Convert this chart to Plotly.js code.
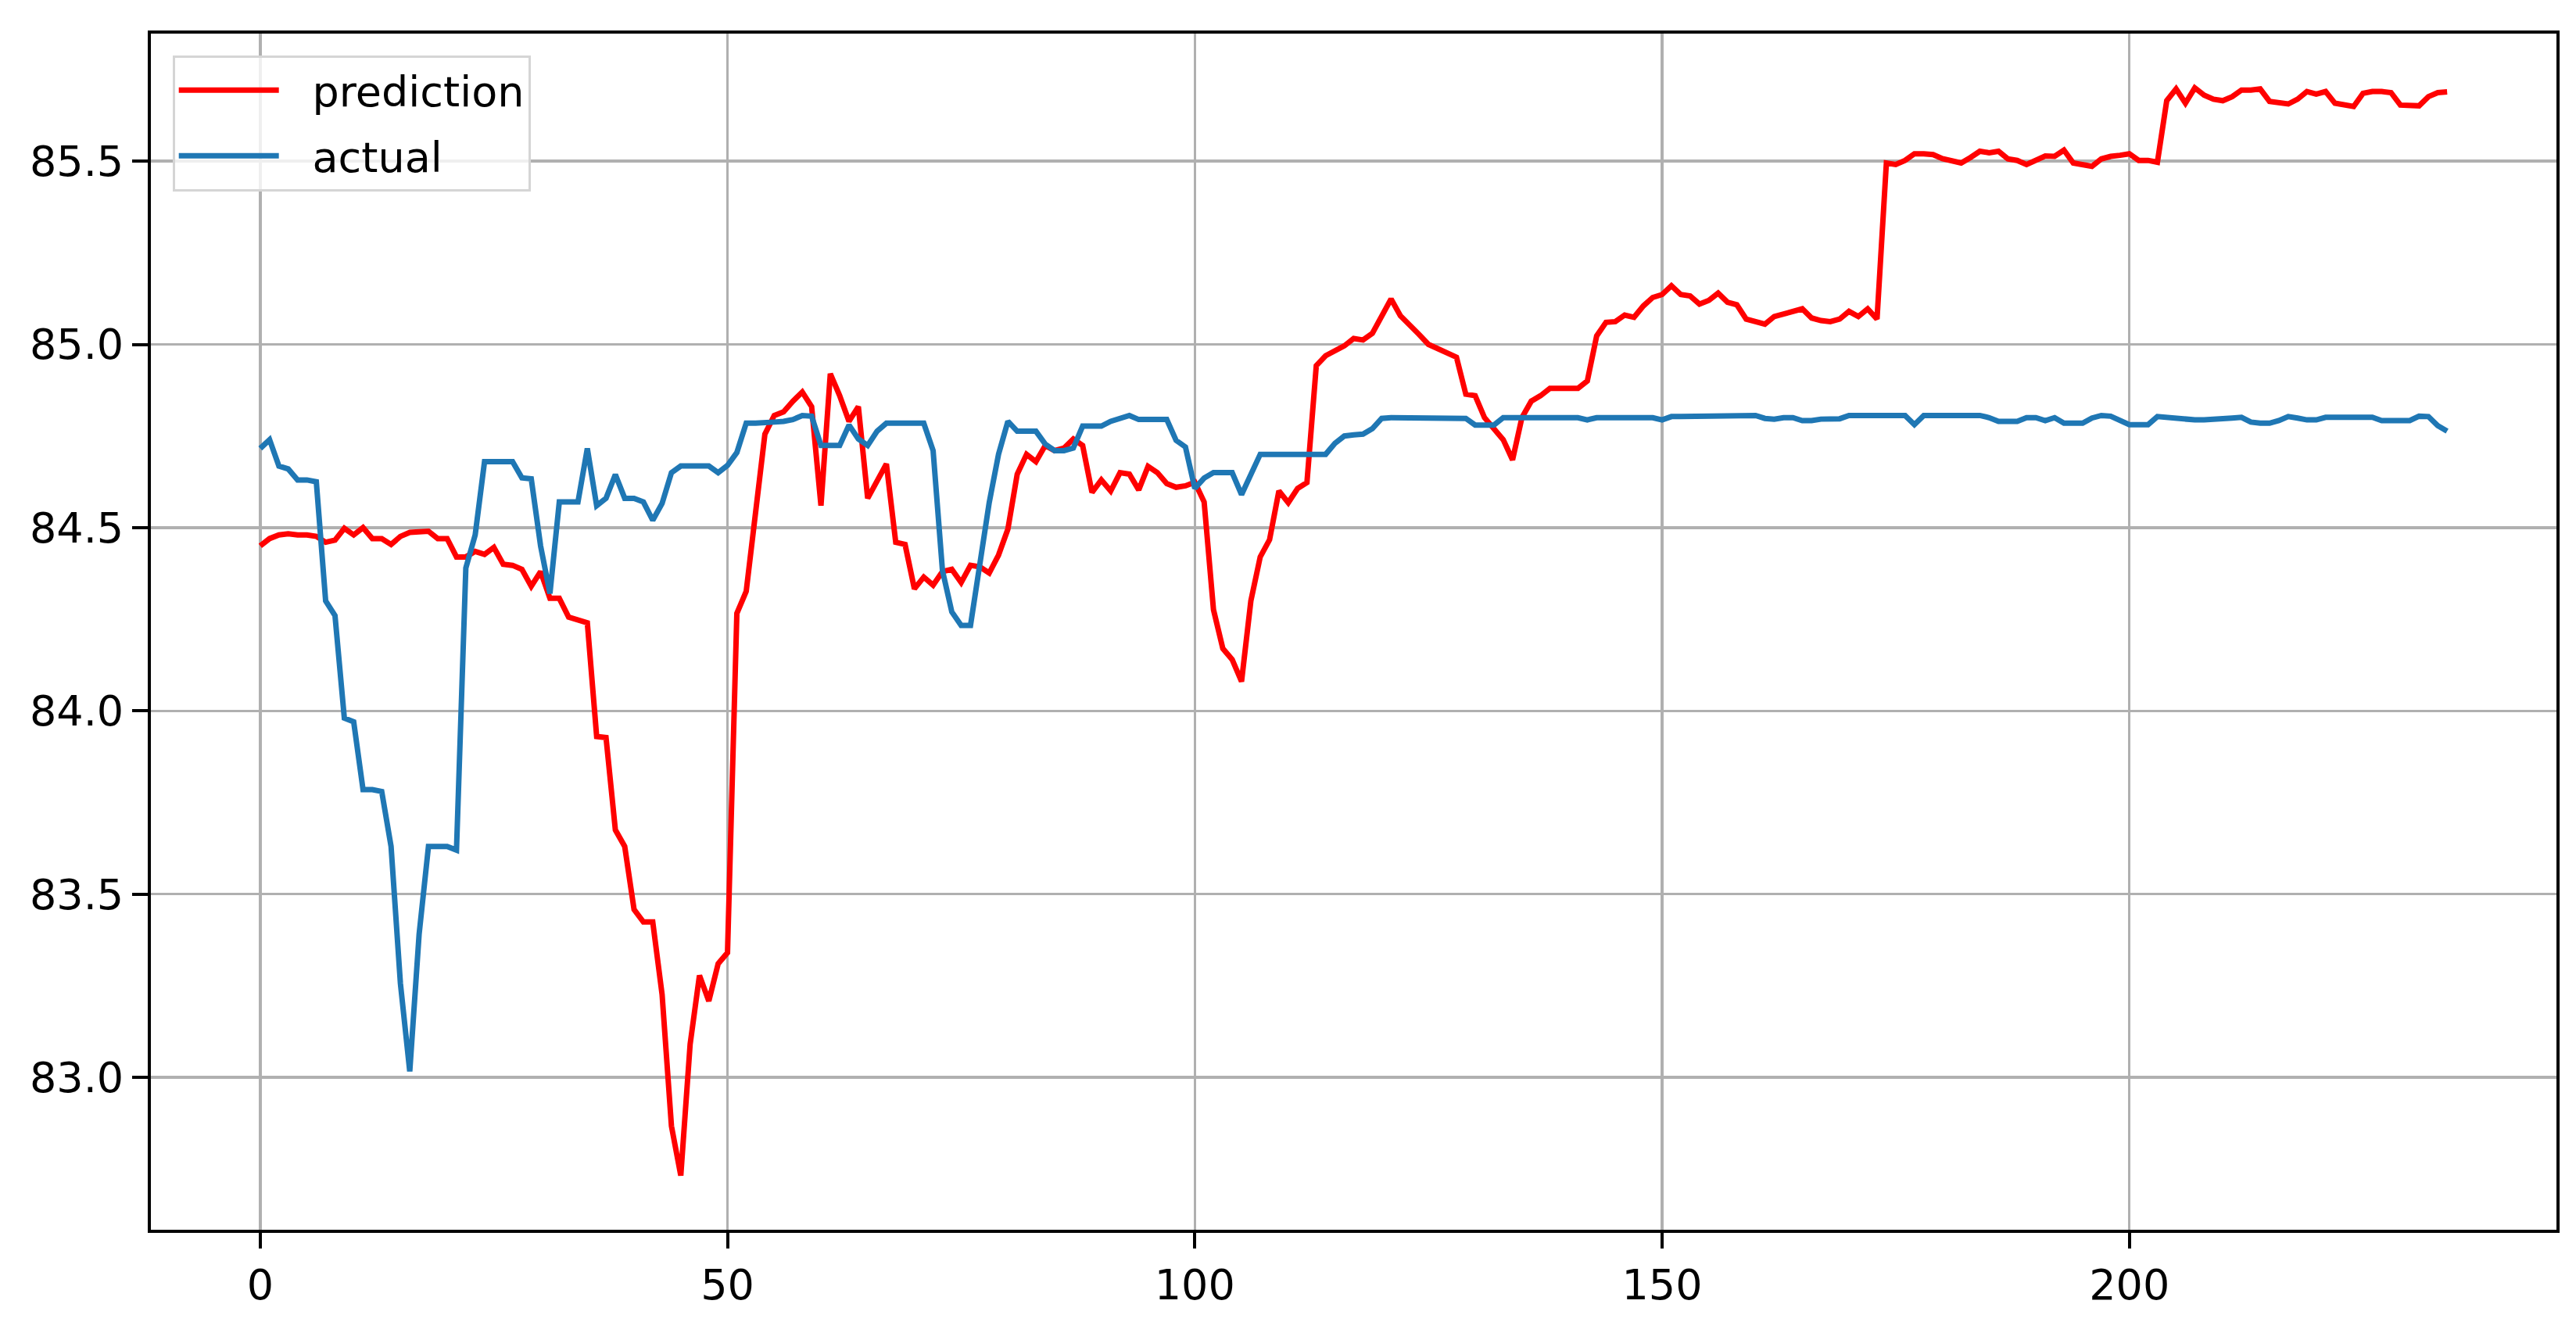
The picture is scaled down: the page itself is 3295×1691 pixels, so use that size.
<!DOCTYPE html>
<html>
<head>
<meta charset="utf-8">
<script src="https://cdn.plot.ly/plotly-3.0.1.min.js"></script>
<style>
  html, body { margin: 0; padding: 0; background: #fff; }
  #chart { width: 3295px; height: 1691px; }
</style>
</head>
<body>
<div id="chart"></div>
<script>
// values, one per step (0..234)
var prediction = [
  84.45, 84.47, 84.48, 84.483, 84.48, 84.48, 84.476, 84.46, 84.466, 84.498,
  84.48, 84.50, 84.47, 84.47, 84.454, 84.476, 84.487, 84.49, 84.49, 84.47,
  84.47, 84.42, 84.42, 84.435, 84.427, 84.446, 84.40, 84.397, 84.386, 84.34,
  84.38, 84.307, 84.307, 84.256, 84.247, 84.24, 83.93, 83.927, 83.675, 83.63,
  83.458, 83.424, 83.424, 83.226, 82.867, 82.732, 83.09, 83.278, 83.208, 83.31,
  83.34, 84.266, 84.326, 84.55, 84.755, 84.806, 84.816, 84.845, 84.87, 84.83,
  84.56, 84.92, 84.86, 84.79, 84.83, 84.58, 84.625, 84.674, 84.46, 84.454,
  84.333, 84.365, 84.343, 84.38, 84.386, 84.35, 84.397, 84.393, 84.376, 84.425,
  84.496, 84.646, 84.70, 84.68, 84.724, 84.71, 84.717, 84.742, 84.724, 84.596,
  84.63, 84.60, 84.65, 84.646, 84.603, 84.667, 84.65, 84.62, 84.61, 84.614,
  84.624, 84.57, 84.276, 84.17, 84.14, 84.08, 84.30, 84.42, 84.467, 84.60,
  84.568, 84.607, 84.623, 84.942, 84.969, 84.984, 84.996, 85.016, 85.012, 85.03,
  85.074, 85.124, 85.078, 85.054, 85.027, 85.0, 84.988, 84.973, 84.965, 84.864,
  84.86, 84.80, 84.767, 84.74, 84.685, 84.80, 84.845, 84.86, 84.88, 84.88,
  84.88, 84.88, 84.90, 85.023, 85.06, 85.062, 85.08, 85.074, 85.105, 85.128,
  85.136, 85.16, 85.136, 85.132, 85.11, 85.12, 85.14, 85.115, 85.108, 85.069,
  85.062, 85.055, 85.076, 85.083, 85.087, 85.097, 85.072, 85.065, 85.062, 85.069,
  85.09, 85.076, 85.097, 85.069, 85.495, 85.491, 85.502, 85.52, 85.52, 85.518,
  85.507, 85.50, 85.495, 85.51, 85.527, 85.523, 85.527, 85.506, 85.502, 85.491,
  85.502, 85.514, 85.513, 85.53, 85.495, 85.491, 85.486, 85.506, 85.513, 85.516,
  85.52, 85.502, 85.502, 85.497, 85.665, 85.697, 85.658, 85.70, 85.68, 85.669,
  85.665, 85.676, 85.694, 85.694, 85.697, 85.663, 85.658, 85.656, 85.669, 85.69,
  85.683, 85.69, 85.658, 85.653, 85.649, 85.685, 85.69, 85.69, 85.687, 85.653,
  85.651, 85.651, 85.676, 85.687, 85.689
];

var actual = [
  84.716, 84.74, 84.668, 84.66, 84.63, 84.63, 84.625, 84.30, 84.26, 83.98,
  83.97, 83.785, 83.785, 83.78, 83.63, 83.256, 83.016, 83.39, 83.63, 83.63,
  83.63, 83.62, 84.39, 84.48, 84.68, 84.68, 84.68, 84.68, 84.636, 84.633,
  84.45, 84.32, 84.57, 84.57, 84.57, 84.716, 84.56, 84.58, 84.645, 84.58,
  84.58, 84.57, 84.52, 84.566, 84.65, 84.668, 84.668, 84.668, 84.668, 84.65,
  84.67, 84.705, 84.785, 84.785, 84.785, 84.788, 84.79, 84.795, 84.806, 84.804,
  84.724, 84.724, 84.724, 84.78, 84.742, 84.724, 84.763, 84.785, 84.785, 84.785,
  84.785, 84.785, 84.71, 84.383, 84.27, 84.233, 84.233, 84.404, 84.568, 84.70,
  84.79, 84.763, 84.763, 84.763, 84.728, 84.71, 84.71, 84.717, 84.777, 84.777,
  84.777, 84.79, 84.80, 84.806, 84.795, 84.795, 84.795, 84.795, 84.738, 84.72,
  84.607, 84.635, 84.65, 84.65, 84.65, 84.59, 84.646, 84.70, 84.70, 84.70,
  84.70, 84.70, 84.70, 84.70, 84.70, 84.73, 84.75, 84.753, 84.755, 84.77,
  84.798, 84.80, 84.80, 84.80, 84.80, 84.80, 84.80, 84.80, 84.80, 84.798,
  84.78, 84.78, 84.78, 84.80, 84.80, 84.80, 84.80, 84.80, 84.80, 84.80,
  84.80, 84.80, 84.794, 84.80, 84.80, 84.80, 84.80, 84.80, 84.80, 84.80,
  84.794, 84.803, 84.803, 84.803, 84.803, 84.803, 84.806, 84.806, 84.806, 84.806,
  84.806, 84.798, 84.796, 84.80, 84.80, 84.792, 84.792, 84.796, 84.797, 84.797,
  84.806, 84.806, 84.806, 84.806, 84.803, 84.803, 84.806, 84.781, 84.806, 84.806,
  84.806, 84.806, 84.806, 84.806, 84.806, 84.80, 84.79, 84.79, 84.79, 84.80,
  84.80, 84.792, 84.80, 84.785, 84.785, 84.785, 84.799, 84.806, 84.804, 84.792,
  84.781, 84.781, 84.781, 84.803, 84.80, 84.80, 84.794, 84.794, 84.794, 84.795,
  84.795, 84.799, 84.801, 84.788, 84.785, 84.785, 84.792, 84.803, 84.799, 84.794,
  84.794, 84.801, 84.801, 84.801, 84.801, 84.801, 84.801, 84.792, 84.792, 84.792,
  84.792, 84.804, 84.803, 84.778, 84.763
];

var seriesNames = ['prediction', 'actual'];

var steps = prediction.map(function (v, i) { return i; });

var font = 'DejaVu Sans, Liberation Sans, sans-serif';
var gap = '\u2002\u2009'; // push legend text away from the sample line, like matplotlib

var traces = [{
  x: steps,
  y: prediction,
  name: gap + seriesNames[0],
  legendgroup: 'p',
  type: 'scatter',
  mode: 'lines',
  line: { color: '#ff0000', width: 7 }
}, {
  x: steps,
  y: actual,
  name: gap + seriesNames[1],
  legendgroup: 'a',
  type: 'scatter',
  mode: 'lines',
  line: { color: '#1f77b4', width: 7 }
}];

var axisStyle = {
  showline: true,
  mirror: true,
  linecolor: '#000',
  linewidth: 4,
  showgrid: true,
  gridcolor: '#b0b0b0',
  gridwidth: 3.5,
  zeroline: false,
  ticks: 'outside',
  ticklen: 20,
  tickwidth: 4,
  tickcolor: '#000',
  tickfont: { family: font, size: 54, color: '#000' }
};

var layout = {
  width: 3295,
  height: 1691,
  margin: { l: 193, r: 25, t: 43, b: 118 },
  paper_bgcolor: '#fff',
  plot_bgcolor: '#fff',
  showlegend: true,
  legend: {
    x: 0.009, y: 0.982, xanchor: 'left', yanchor: 'top',
    bgcolor: 'rgba(255,255,255,0.8)',
    bordercolor: '#d5d5d5',
    borderwidth: 3,
    itemwidth: 128,
    tracegroupgap: 11,
    font: { family: font, size: 54, color: '#000' }
  },
  xaxis: Object.assign({}, axisStyle, {
    range: [-11.7, 245.7],
    tick0: 0,
    dtick: 50
  }),
  yaxis: Object.assign({}, axisStyle, {
    range: [82.584, 85.848],
    tick0: 83,
    dtick: 0.5,
    tickformat: '.1f'
  })
};

Plotly.newPlot('chart', traces, layout, { displayModeBar: false, staticPlot: true });
</script>
</body>
</html>
